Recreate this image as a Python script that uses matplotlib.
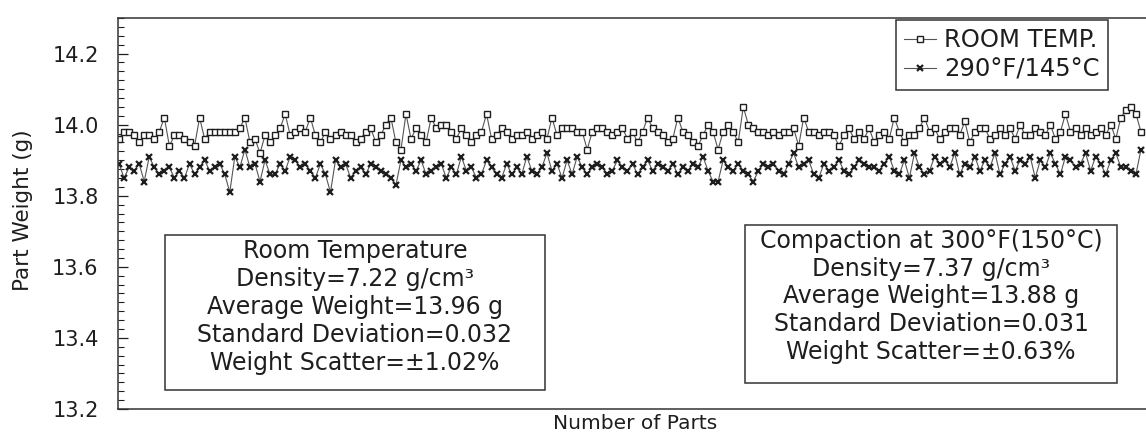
import matplotlib.pyplot as plt
from matplotlib.patches import Rectangle
from matplotlib.ticker import MultipleLocator, NullLocator

plt.rcParams['font.family'] = ['DejaVu Sans']

# part weights (g), one value per pressed part
room_temp = [
    13.96, 13.98, 13.98, 13.97, 13.95, 13.97, 13.97, 13.96, 13.98, 14.02,
    13.94, 13.97, 13.97, 13.96, 13.95, 13.94, 14.02, 13.96, 13.98, 13.98,
    13.98, 13.98, 13.98, 13.98, 13.99, 14.02, 13.95, 13.96, 13.92, 13.97,
    13.95, 13.97, 13.99, 14.03, 13.97, 13.98, 13.99, 13.98, 14.02, 13.97,
    13.95, 13.98, 13.96, 13.97, 13.98, 13.97, 13.97, 13.95, 13.96, 13.98,
    13.99, 13.95, 13.97, 14.00, 14.02, 13.95, 13.93, 14.03, 13.96, 13.99,
    13.97, 13.95, 14.02, 13.99, 14.00, 14.00, 13.98, 13.96, 13.99, 13.97,
    13.95, 13.97, 13.98, 14.03, 13.96, 13.97, 13.99, 13.98, 13.96, 13.97,
    13.97, 13.98, 13.96, 13.97, 13.98, 13.96, 14.02, 13.97, 13.99, 13.99,
    13.99, 13.98, 13.98, 13.93, 13.98, 13.99, 13.99, 13.98, 13.97, 13.98,
    13.99, 13.96, 13.98, 13.95, 13.98, 14.02, 13.99, 13.98, 13.97, 13.95,
    13.96, 14.02, 13.98, 13.97, 13.95, 13.94, 13.97, 14.00, 13.98, 13.93,
    13.98, 14.00, 13.98, 13.95, 14.05, 14.00, 13.99, 13.98, 13.98, 13.97,
    13.98, 13.97, 13.98, 13.98, 13.99, 13.94, 14.02, 13.98, 13.98, 13.97,
    13.98, 13.98, 13.97, 13.94, 13.97, 13.99, 13.96, 13.98, 13.96, 13.99,
    13.95, 13.97, 13.98, 13.96, 14.02, 13.98, 13.95, 13.97, 13.97, 13.99,
    14.02, 13.98, 13.99, 13.96, 13.98, 13.99, 13.99, 13.97, 14.01, 13.95,
    13.98, 13.99, 13.99, 13.96, 13.97, 13.99, 13.97, 13.99, 13.96, 14.00,
    13.97, 13.97, 13.99, 13.98, 13.97, 14.00, 13.96, 13.98, 14.03, 13.98,
    13.99, 13.97, 13.99, 13.97, 13.98, 13.99, 13.97, 14.00, 13.96, 14.02,
    14.04, 14.05, 14.03, 13.98,
]

warm = [
    13.89, 13.85, 13.88, 13.87, 13.89, 13.84, 13.91, 13.88, 13.86, 13.87,
    13.88, 13.85, 13.87, 13.85, 13.89, 13.86, 13.88, 13.90, 13.87, 13.88,
    13.89, 13.86, 13.81, 13.91, 13.88, 13.93, 13.88, 13.89, 13.84, 13.90,
    13.86, 13.86, 13.89, 13.87, 13.91, 13.90, 13.88, 13.89, 13.87, 13.85,
    13.89, 13.86, 13.81, 13.90, 13.88, 13.89, 13.85, 13.87, 13.88, 13.86,
    13.89, 13.88, 13.87, 13.86, 13.85, 13.83, 13.90, 13.88, 13.89, 13.87,
    13.90, 13.86, 13.87, 13.88, 13.89, 13.85, 13.88, 13.86, 13.91, 13.87,
    13.88, 13.85, 13.86, 13.90, 13.88, 13.86, 13.85, 13.89, 13.86, 13.88,
    13.86, 13.91, 13.87, 13.86, 13.88, 13.92, 13.87, 13.89, 13.85, 13.90,
    13.86, 13.91, 13.88, 13.86, 13.88, 13.89, 13.88, 13.86, 13.87, 13.90,
    13.88, 13.87, 13.89, 13.86, 13.88, 13.90, 13.87, 13.89, 13.88, 13.87,
    13.89, 13.86, 13.88, 13.87, 13.89, 13.88, 13.91, 13.87, 13.84, 13.84,
    13.90, 13.88, 13.87, 13.89, 13.87, 13.86, 13.84, 13.87, 13.89, 13.88,
    13.89, 13.87, 13.86, 13.89, 13.92, 13.88, 13.89, 13.90, 13.86, 13.85,
    13.89, 13.87, 13.88, 13.90, 13.87, 13.86, 13.88, 13.90, 13.89, 13.88,
    13.88, 13.87, 13.89, 13.91, 13.87, 13.86, 13.90, 13.85, 13.92, 13.88,
    13.86, 13.87, 13.91, 13.89, 13.90, 13.88, 13.92, 13.86, 13.89, 13.88,
    13.91, 13.87, 13.90, 13.88, 13.92, 13.86, 13.89, 13.91, 13.87, 13.90,
    13.89, 13.91, 13.85, 13.90, 13.88, 13.92, 13.89, 13.86, 13.91, 13.90,
    13.88, 13.89, 13.92, 13.87, 13.91, 13.89, 13.86, 13.90, 13.92, 13.88,
    13.88, 13.87, 13.86, 13.93,
]

series_labels = ['ROOM TEMP.', '290°F/145°C']

room_notes = ['Room Temperature', 'Density=7.22 g/cm³', 'Average Weight=13.96 g',
              'Standard Deviation=0.032', 'Weight Scatter=±1.02%']
warm_notes = ['Compaction at 300°F(150°C)', 'Density=7.37 g/cm³', 'Average Weight=13.88 g',
              'Standard Deviation=0.031', 'Weight Scatter=±0.63%']

ink = '#1e1e1e'

fig = plt.figure(figsize=(11.46, 4.33), dpi=100)
ax = fig.add_axes([0.103, 0.0554, 0.897, 0.903])

parts = range(len(room_temp))
ax.plot(parts, room_temp, color='#555555', lw=0.8, marker='s', ms=5,
        mfc='white', mec=ink, mew=1.0, label=series_labels[0])
ax.plot(range(len(warm)), warm, color='#555555', lw=0.8, marker='x', ms=4.8,
        mec=ink, mew=1.6, label=series_labels[1])

ax.set_xlim(-0.2, 204)
ax.set_ylim(13.2, 14.3)
ax.yaxis.set_major_locator(MultipleLocator(0.2))
ax.yaxis.set_minor_locator(MultipleLocator(0.025))
ax.xaxis.set_major_locator(NullLocator())
ax.tick_params(axis='y', which='major', direction='in', length=7, width=0.9,
               labelsize=15, pad=14, colors=ink)
ax.tick_params(axis='y', which='minor', direction='in', length=4.5, width=0.8,
               colors=ink)
ax.yaxis.set_major_formatter(plt.FormatStrFormatter('%.1f'))
ax.spines['right'].set_visible(False)
for s in ['left', 'top', 'bottom']:
    ax.spines[s].set_linewidth(1.1)
    ax.spines[s].set_color('#333333')

ax.set_ylabel('Part Weight (g)', fontsize=15.5, color=ink)
ax.yaxis.set_label_coords(-0.083, 0.509)
ax.set_xlabel('Number of Parts', fontsize=14.5, color=ink)
ax.xaxis.set_label_coords(0.503, -0.013)
ax.xaxis.label.set_va('top')

leg = ax.legend(loc='upper right', bbox_to_anchor=(0.963, 0.995), borderaxespad=0,
                fontsize=17.5, handlelength=1.3, handletextpad=0.33, borderpad=0.35,
                labelspacing=0.2, fancybox=False, edgecolor='#333333',
                framealpha=1)
leg.get_frame().set_linewidth(1.1)
for t in leg.get_texts():
    t.set_color(ink)

# note boxes under the curves
ax.add_patch(Rectangle((0.0457, 0.0486), 0.370, 0.396, transform=ax.transAxes,
                       fill=False, ec='#333333', lw=1.1))
ax.text(0.2305, 0.261, '\n'.join(room_notes), transform=ax.transAxes,
        ha='center', va='center', fontsize=17, linespacing=1.2, color=ink)

ax.add_patch(Rectangle((0.610, 0.0665), 0.362, 0.404, transform=ax.transAxes,
                       fill=False, ec='#333333', lw=1.1))
ax.text(0.791, 0.288, '\n'.join(warm_notes), transform=ax.transAxes,
        ha='center', va='center', fontsize=17, linespacing=1.2, color=ink)

fig.savefig('out.png', dpi=100)
